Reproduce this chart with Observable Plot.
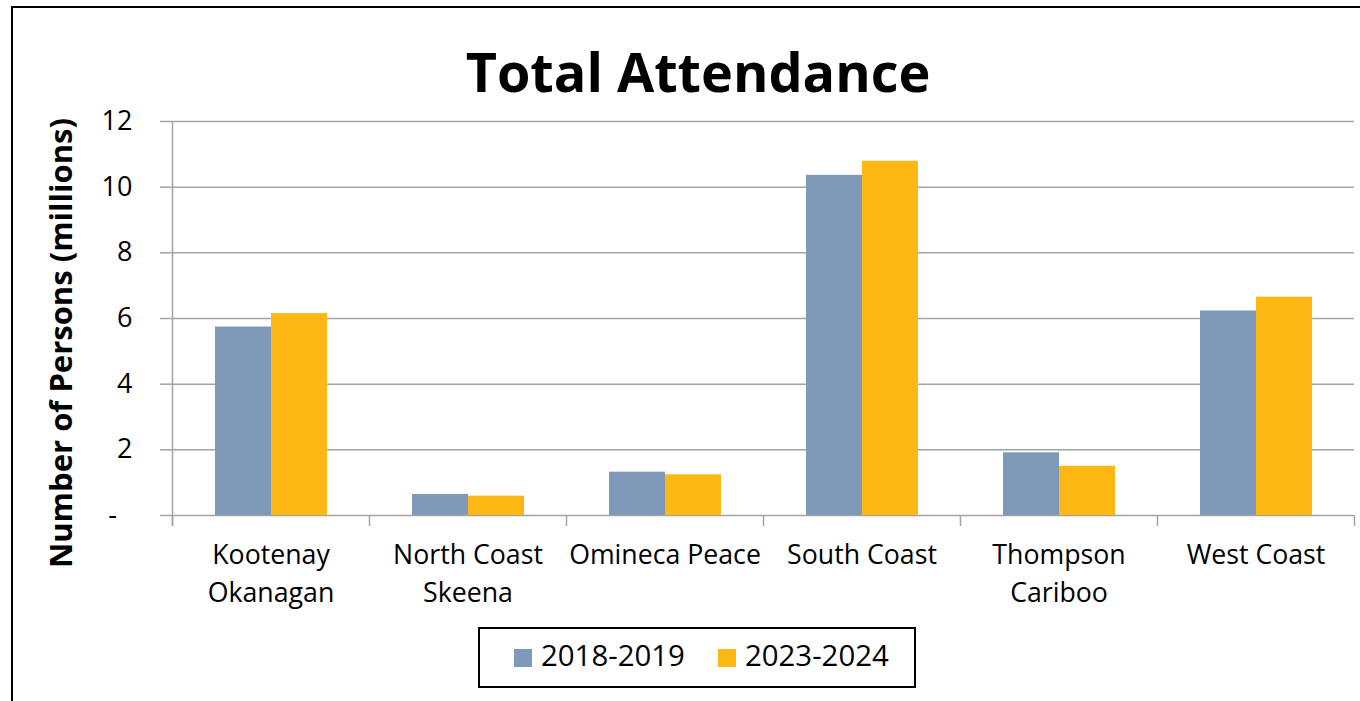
<!DOCTYPE html>
<html>
<head>
<meta charset="utf-8">
<script src="https://cdn.jsdelivr.net/npm/d3@7"></script>
<script src="https://cdn.jsdelivr.net/npm/@observablehq/plot@0.6"></script>
<style>
  html, body { margin: 0; padding: 0; background: #fff; }
  #page { position: relative; width: 1360px; height: 701px; overflow: hidden; font-family: "Open Sans", sans-serif; color: #000; }
  #frame { position: absolute; left: 11px; top: 6px; width: 1420px; height: 760px; border: 2.3px solid #000; box-sizing: border-box; }
  #title { position: absolute; left: 0; top: 44px; width: 1396px; text-align: center; font-size: 54px; font-weight: 700; line-height: 1; white-space: nowrap; }
  #ylabel { position: absolute; left: 60px; top: 343px; transform: translate(-50%, -50%) rotate(-90deg); font-size: 31px; font-weight: 700; line-height: 1; white-space: nowrap; }
  #chart { position: absolute; left: 0; top: 100px; }
  #legend { position: absolute; left: 478px; top: 627px; width: 438px; height: 61px; border: 2px solid #000; box-sizing: border-box; display: flex; align-items: center; padding-left: 34px; background: #fff; }
  .sw { width: 18px; height: 18px; margin-right: 9px; flex: none; }
  .lt { font-size: 29.4px; line-height: 1; margin-right: 33px; white-space: nowrap; position: relative; top: -2px; }
</style>
</head>
<body>
<div id="page">
  <div id="frame"></div>
  <div id="title">Total Attendance</div>
  <div id="ylabel">Number of Persons (millions)</div>
  <div id="chart"></div>
  <div id="legend"></div>
</div>
<script>
// ---- data ----
const categories = ["Kootenay Okanagan", "North Coast Skeena", "Omineca Peace", "South Coast", "Thompson Cariboo", "West Coast"];
const categoryLabels = ["Kootenay\nOkanagan", "North Coast\nSkeena", "Omineca Peace", "South Coast", "Thompson\nCariboo", "West Coast"];
const series = ["2018-2019", "2023-2024"];
const values2018 = [5.74, 0.64, 1.32, 10.36, 1.91, 6.23];
const values2023 = [6.15, 0.59, 1.24, 10.79, 1.50, 6.65];
const yTicks = [0, 2, 4, 6, 8, 10, 12];
const colors = ["#7F9AB9", "#FDB813"];

const rows = categories.flatMap((c, i) => [
  {cat: c, series: series[0], value: values2018[i]},
  {cat: c, series: series[1], value: values2023[i]}
]);

// ---- layout ----
const W = 1360, H = 510, mt = 21, mb = 95, ml = 172, mr = 6;
const innerH = H - mt - mb;
const step = (W - ml - mr) / categories.length;
const tickLen = 11;
const gridColor = "#a3a3a3";

const chart = Plot.plot({
  width: W, height: H,
  marginTop: mt, marginBottom: mb, marginLeft: ml, marginRight: mr,
  style: {fontFamily: "Open Sans", background: "transparent", overflow: "visible", color: "#000"},
  fx: {domain: categories, padding: 0, axis: null, label: null},
  x: {domain: series, paddingInner: 0, paddingOuter: 0.743, axis: null},
  y: {domain: [0, 12], axis: null},
  color: {domain: series, range: colors},
  marks: [
    Plot.ruleY(yTicks, {stroke: gridColor, strokeWidth: 1.5}),
    Plot.barY(rows, {fx: "cat", x: "series", y: "value", fill: "series"}),
    // category boundary ticks below the baseline
    Plot.ruleX(categories, {fx: d => d, x: null, dx: -step / 2, insetTop: innerH, insetBottom: -tickLen, stroke: gridColor, strokeWidth: 1.5}),
    Plot.ruleX(categories.slice(-1), {fx: d => d, x: null, dx: step / 2, insetTop: innerH, insetBottom: -tickLen, stroke: gridColor, strokeWidth: 1.5}),
    // y axis line
    Plot.ruleX(categories.slice(0, 1), {fx: d => d, x: null, dx: -step / 2, insetBottom: -tickLen, stroke: gridColor, strokeWidth: 1.5}),
    Plot.axisY({
      ticks: yTicks, tickSize: 12, tickPadding: 28,
      tickFormat: d => d === 0 ? "-\u2007" : String(d),
      fontSize: 27, stroke: gridColor, strokeWidth: 1.5, fill: "#000", label: null
    }),
    Plot.text(categories, {
      fx: d => d, text: (d, i) => categoryLabels[i],
      frameAnchor: "bottom", lineAnchor: "top", dy: 22,
      fontSize: 26.7, lineHeight: 1.42, fill: "#000"
    })
  ]
});
document.getElementById("chart").appendChild(chart);

// ---- legend ----
const legend = document.getElementById("legend");
series.forEach((s, i) => {
  const sw = document.createElement("div");
  sw.className = "sw";
  sw.style.background = colors[i];
  const t = document.createElement("div");
  t.className = "lt";
  t.textContent = s;
  legend.appendChild(sw);
  legend.appendChild(t);
});
</script>
</body>
</html>
